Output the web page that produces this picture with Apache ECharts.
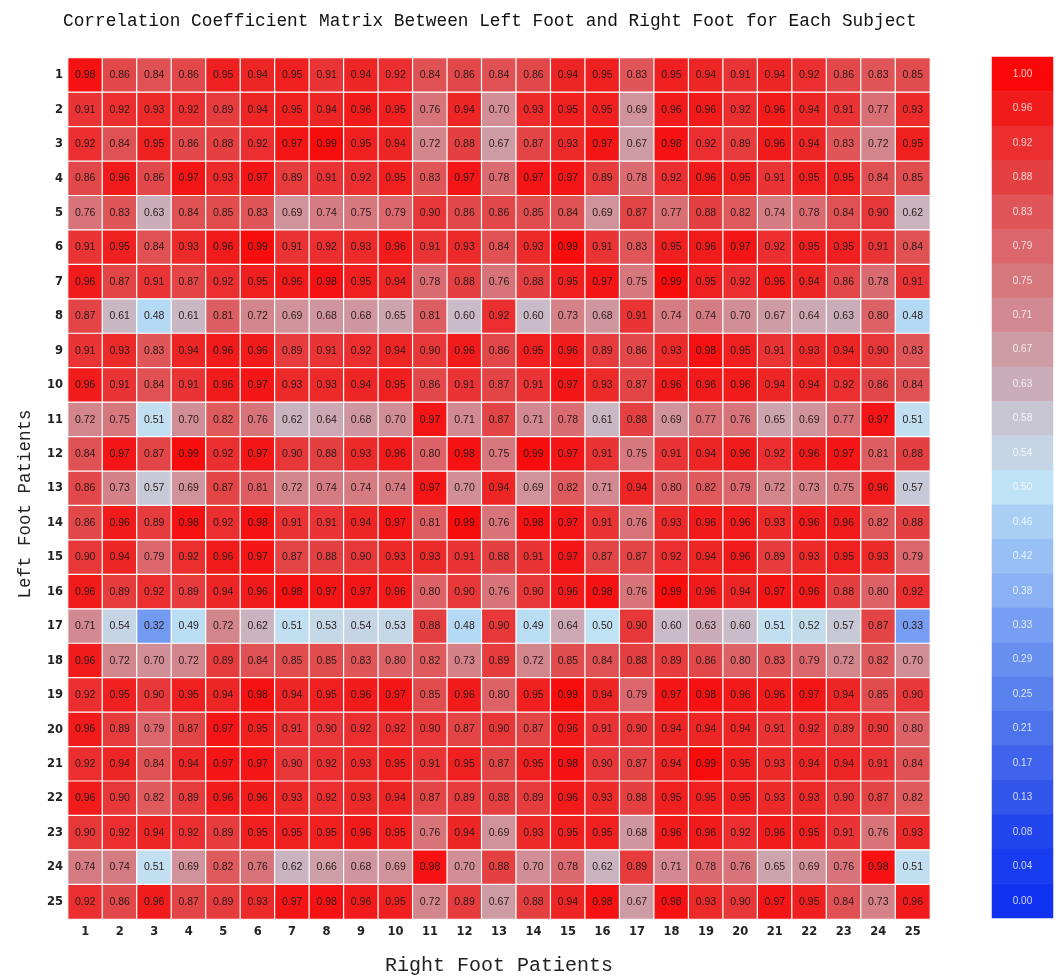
<!DOCTYPE html>
<html>
<head>
<meta charset="utf-8">
<script src="https://cdn.jsdelivr.net/npm/echarts@6/dist/echarts.min.js"></script>
<style>
  html, body { margin: 0; padding: 0; background: #ffffff; }
  #chart { width: 1058px; height: 976px; }
</style>
</head>
<body>
<div id="chart"></div>
<script>
// Subject labels (right foot along x, left foot along y)
const rightPatients = ['1','2','3','4','5','6','7','8','9','10','11','12','13','14','15','16','17','18','19','20','21','22','23','24','25'];
const leftPatients  = ['1','2','3','4','5','6','7','8','9','10','11','12','13','14','15','16','17','18','19','20','21','22','23','24','25'];

// Correlation coefficients, one array per left-foot subject (columns = right-foot subjects 1..25)
const left01 = [0.98,0.86,0.84,0.86,0.95,0.94,0.95,0.91,0.94,0.92,0.84,0.86,0.84,0.86,0.94,0.95,0.83,0.95,0.94,0.91,0.94,0.92,0.86,0.83,0.85];
const left02 = [0.91,0.92,0.93,0.92,0.89,0.94,0.95,0.94,0.96,0.95,0.76,0.94,0.70,0.93,0.95,0.95,0.69,0.96,0.96,0.92,0.96,0.94,0.91,0.77,0.93];
const left03 = [0.92,0.84,0.95,0.86,0.88,0.92,0.97,0.99,0.95,0.94,0.72,0.88,0.67,0.87,0.93,0.97,0.67,0.98,0.92,0.89,0.96,0.94,0.83,0.72,0.95];
const left04 = [0.86,0.96,0.86,0.97,0.93,0.97,0.89,0.91,0.92,0.95,0.83,0.97,0.78,0.97,0.97,0.89,0.78,0.92,0.96,0.95,0.91,0.95,0.95,0.84,0.85];
const left05 = [0.76,0.83,0.63,0.84,0.85,0.83,0.69,0.74,0.75,0.79,0.90,0.86,0.86,0.85,0.84,0.69,0.87,0.77,0.88,0.82,0.74,0.78,0.84,0.90,0.62];
const left06 = [0.91,0.95,0.84,0.93,0.96,0.99,0.91,0.92,0.93,0.96,0.91,0.93,0.84,0.93,0.99,0.91,0.83,0.95,0.96,0.97,0.92,0.95,0.95,0.91,0.84];
const left07 = [0.96,0.87,0.91,0.87,0.92,0.95,0.96,0.98,0.95,0.94,0.78,0.88,0.76,0.88,0.95,0.97,0.75,0.99,0.95,0.92,0.96,0.94,0.86,0.78,0.91];
const left08 = [0.87,0.61,0.48,0.61,0.81,0.72,0.69,0.68,0.68,0.65,0.81,0.60,0.92,0.60,0.73,0.68,0.91,0.74,0.74,0.70,0.67,0.64,0.63,0.80,0.48];
const left09 = [0.91,0.93,0.83,0.94,0.96,0.96,0.89,0.91,0.92,0.94,0.90,0.96,0.86,0.95,0.96,0.89,0.86,0.93,0.98,0.95,0.91,0.93,0.94,0.90,0.83];
const left10 = [0.96,0.91,0.84,0.91,0.96,0.97,0.93,0.93,0.94,0.95,0.86,0.91,0.87,0.91,0.97,0.93,0.87,0.96,0.96,0.96,0.94,0.94,0.92,0.86,0.84];
const left11 = [0.72,0.75,0.51,0.70,0.82,0.76,0.62,0.64,0.68,0.70,0.97,0.71,0.87,0.71,0.78,0.61,0.88,0.69,0.77,0.76,0.65,0.69,0.77,0.97,0.51];
const left12 = [0.84,0.97,0.87,0.99,0.92,0.97,0.90,0.88,0.93,0.96,0.80,0.98,0.75,0.99,0.97,0.91,0.75,0.91,0.94,0.96,0.92,0.96,0.97,0.81,0.88];
const left13 = [0.86,0.73,0.57,0.69,0.87,0.81,0.72,0.74,0.74,0.74,0.97,0.70,0.94,0.69,0.82,0.71,0.94,0.80,0.82,0.79,0.72,0.73,0.75,0.96,0.57];
const left14 = [0.86,0.96,0.89,0.98,0.92,0.98,0.91,0.91,0.94,0.97,0.81,0.99,0.76,0.98,0.97,0.91,0.76,0.93,0.96,0.96,0.93,0.96,0.96,0.82,0.88];
const left15 = [0.90,0.94,0.79,0.92,0.96,0.97,0.87,0.88,0.90,0.93,0.93,0.91,0.88,0.91,0.97,0.87,0.87,0.92,0.94,0.96,0.89,0.93,0.95,0.93,0.79];
const left16 = [0.96,0.89,0.92,0.89,0.94,0.96,0.98,0.97,0.97,0.96,0.80,0.90,0.76,0.90,0.96,0.98,0.76,0.99,0.96,0.94,0.97,0.96,0.88,0.80,0.92];
const left17 = [0.71,0.54,0.32,0.49,0.72,0.62,0.51,0.53,0.54,0.53,0.88,0.48,0.90,0.49,0.64,0.50,0.90,0.60,0.63,0.60,0.51,0.52,0.57,0.87,0.33];
const left18 = [0.96,0.72,0.70,0.72,0.89,0.84,0.85,0.85,0.83,0.80,0.82,0.73,0.89,0.72,0.85,0.84,0.88,0.89,0.86,0.80,0.83,0.79,0.72,0.82,0.70];
const left19 = [0.92,0.95,0.90,0.95,0.94,0.98,0.94,0.95,0.96,0.97,0.85,0.96,0.80,0.95,0.99,0.94,0.79,0.97,0.98,0.96,0.96,0.97,0.94,0.85,0.90];
const left20 = [0.96,0.89,0.79,0.87,0.97,0.95,0.91,0.90,0.92,0.92,0.90,0.87,0.90,0.87,0.96,0.91,0.90,0.94,0.94,0.94,0.91,0.92,0.89,0.90,0.80];
const left21 = [0.92,0.94,0.84,0.94,0.97,0.97,0.90,0.92,0.93,0.95,0.91,0.95,0.87,0.95,0.98,0.90,0.87,0.94,0.99,0.95,0.93,0.94,0.94,0.91,0.84];
const left22 = [0.96,0.90,0.82,0.89,0.96,0.96,0.93,0.92,0.93,0.94,0.87,0.89,0.88,0.89,0.96,0.93,0.88,0.95,0.95,0.95,0.93,0.93,0.90,0.87,0.82];
const left23 = [0.90,0.92,0.94,0.92,0.89,0.95,0.95,0.95,0.96,0.95,0.76,0.94,0.69,0.93,0.95,0.95,0.68,0.96,0.96,0.92,0.96,0.95,0.91,0.76,0.93];
const left24 = [0.74,0.74,0.51,0.69,0.82,0.76,0.62,0.66,0.68,0.69,0.98,0.70,0.88,0.70,0.78,0.62,0.89,0.71,0.78,0.76,0.65,0.69,0.76,0.98,0.51];
const left25 = [0.92,0.86,0.96,0.87,0.89,0.93,0.97,0.98,0.96,0.95,0.72,0.89,0.67,0.88,0.94,0.98,0.67,0.98,0.93,0.90,0.97,0.95,0.84,0.73,0.96];

// Colour bar tick labels, top to bottom
const scaleTicks = ['1.00','0.96','0.92','0.88','0.83','0.79','0.75','0.71','0.67','0.63','0.58','0.54','0.50',
                    '0.46','0.42','0.38','0.33','0.29','0.25','0.21','0.17','0.13','0.08','0.04','0.00'];

// Diverging palette from 0 (blue) through pale grey-blue to 1 (red), one stop per tick
const palette = ['#1232f2','#1a3cf0','#2446ee','#3054ec','#3e62ec','#4c72ec','#5a82ee','#6890f0','#779ff2',
                 '#87aff3','#97bff4','#a8cff4','#bfe3f4','#c6d4e4','#c8c4d0','#caafbb','#cd9ca6','#d28a92',
                 '#d6787e','#db666b','#df5456','#e44243','#ea3031','#f21c1c','#fa0808'];

const matrix = [left01,left02,left03,left04,left05,left06,left07,left08,left09,left10,left11,left12,left13,
                left14,left15,left16,left17,left18,left19,left20,left21,left22,left23,left24,left25];

const cells = [];
matrix.forEach((row, i) => row.forEach((v, j) => cells.push([j, i, v])));

const scaleCells = scaleTicks.map((t, k) => [0, k, parseFloat(t)]);

const chart = echarts.init(document.getElementById('chart'), null, { renderer: 'canvas' });

chart.setOption({
  backgroundColor: '#ffffff',
  animation: false,
  title: {
    text: 'Correlation Coefficient Matrix Between Left Foot and Right Foot for Each Subject',
    left: 58,
    top: 7,
    textStyle: { fontFamily: 'Liberation Mono', fontSize: 17.8, fontWeight: 'normal', color: '#111' }
  },
  graphic: [
    {
      type: 'text', x: 25, y: 504, rotation: Math.PI / 2,
      style: {
        text: 'Left Foot Patients', fontFamily: 'Liberation Mono', fontSize: 17.5, fill: '#222',
        textAlign: 'center', textVerticalAlign: 'middle'
      }
    },
    {
      type: 'text', x: 499, y: 966,
      style: {
        text: 'Right Foot Patients', fontFamily: 'Liberation Mono', fontSize: 20, fill: '#222',
        textAlign: 'center', textVerticalAlign: 'middle'
      }
    }
  ],
  grid: [
    { left: 68, top: 58, width: 862, height: 861, outerBoundsMode: 'none', containLabel: false },
    { left: 992, top: 57, width: 61, height: 861, outerBoundsMode: 'none', containLabel: false }
  ],
  xAxis: [
    {
      gridIndex: 0, type: 'category', data: rightPatients, position: 'bottom',
      axisLine: { show: false }, axisTick: { show: false }, splitLine: { show: false },
      axisLabel: { fontFamily: 'DejaVu Sans', fontWeight: 'bold', fontSize: 11.5, color: '#222', margin: 7 }
    },
    { gridIndex: 1, type: 'category', data: [''], show: false }
  ],
  yAxis: [
    {
      gridIndex: 0, type: 'category', data: leftPatients, inverse: true,
      axisLine: { show: false }, axisTick: { show: false }, splitLine: { show: false },
      axisLabel: { fontFamily: 'DejaVu Sans', fontWeight: 'bold', fontSize: 11.5, color: '#222', margin: 5 }
    },
    { gridIndex: 1, type: 'category', data: scaleTicks, inverse: true, show: false }
  ],
  visualMap: {
    type: 'continuous', show: false, min: 0, max: 1, dimension: 2,
    seriesIndex: [0, 1],
    inRange: { color: palette }
  },
  series: [
    {
      type: 'heatmap', xAxisIndex: 0, yAxisIndex: 0, data: cells,
      itemStyle: { borderColor: '#ffffff', borderWidth: 1.2 },
      label: {
        show: true, fontFamily: 'Liberation Sans', fontSize: 10.5, color: '#2a1a1a',
        formatter: p => p.value[2].toFixed(2)
      },
      emphasis: { disabled: true }
    },
    {
      type: 'heatmap', xAxisIndex: 1, yAxisIndex: 1, data: scaleCells,
      label: {
        show: true, fontFamily: 'Liberation Sans', fontSize: 10, color: 'rgba(255,255,255,0.78)',
        formatter: p => scaleTicks[p.value[1]]
      },
      emphasis: { disabled: true }
    }
  ]
});
</script>
</body>
</html>
